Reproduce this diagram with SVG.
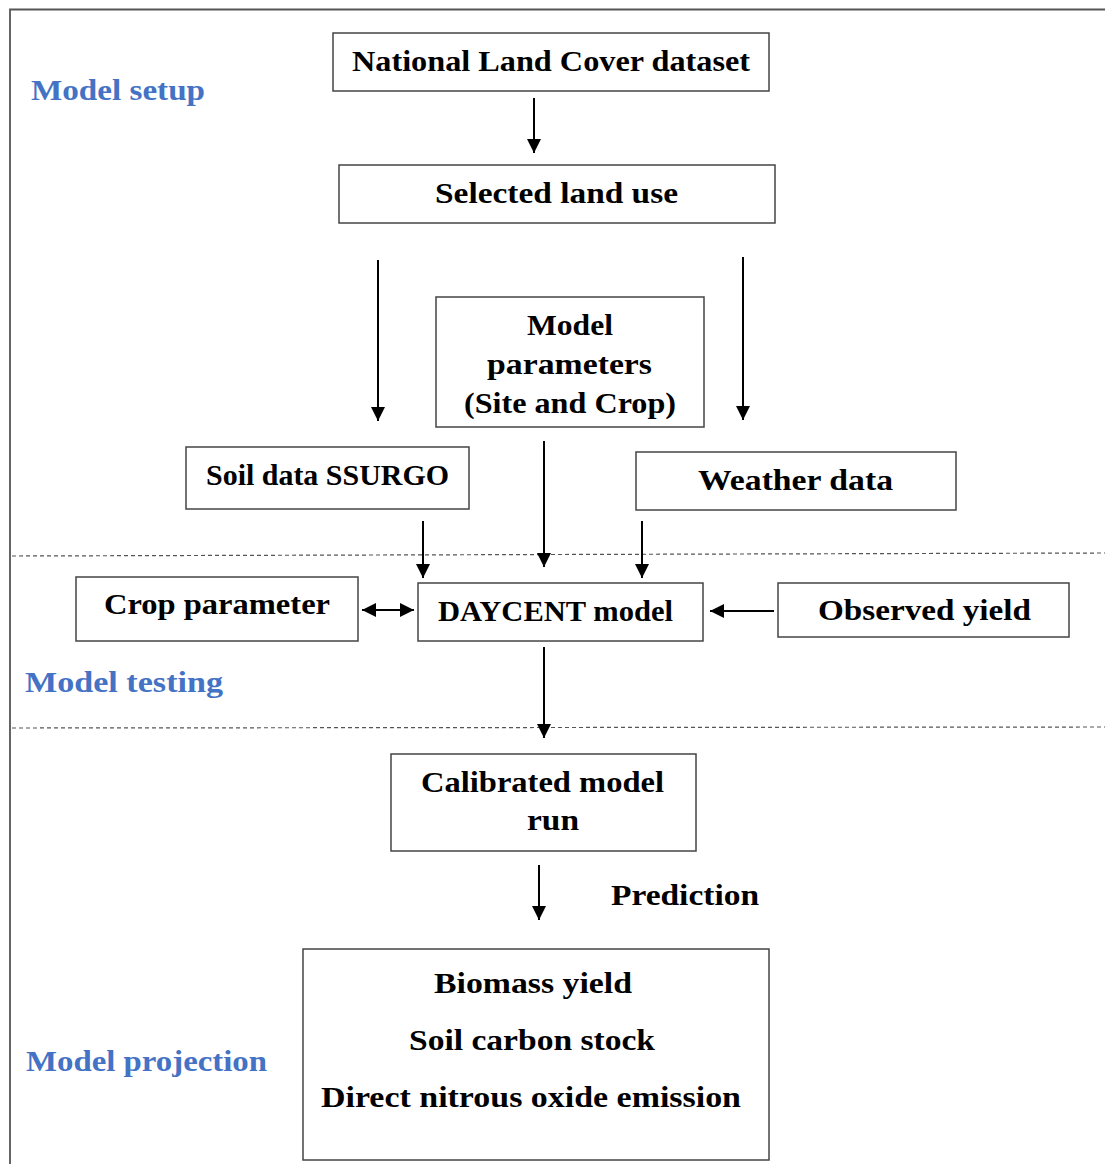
<svg xmlns="http://www.w3.org/2000/svg" width="1105" height="1164" viewBox="0 0 1105 1164">
<style>
.box{fill:#fff;stroke:#444;stroke-width:1.5}
.t{font-family:"Liberation Serif","Times New Roman",serif;font-weight:bold;font-size:30px;fill:#000}
.lbl{font-family:"Liberation Serif","Times New Roman",serif;font-weight:bold;font-size:30px;fill:#4472C4}
.c{stroke:#000;stroke-width:2;fill:none}
.dash{stroke:#555;stroke-width:1.2;stroke-dasharray:4 3;fill:none}
</style>
<defs>
<marker id="ah" markerUnits="userSpaceOnUse" markerWidth="14" markerHeight="16" viewBox="0 0 14 16" refX="14" refY="8" orient="auto-start-reverse">
<path d="M0,1 L14,8 L0,15 Z" fill="#000"/>
</marker>
</defs>
<rect x="0" y="0" width="1105" height="1164" fill="#fff"/>
<path d="M10,1164 L10,9.5 L1105,9.5" fill="none" stroke="#555" stroke-width="1.8"/>
<g id="dividers">
<line class="dash" x1="12" y1="556" x2="1105" y2="553"/>
<line class="dash" x1="12" y1="728" x2="1105" y2="727"/>
</g>
<g id="labels">
<text class="lbl" x="31" y="100" textLength="174" lengthAdjust="spacingAndGlyphs">Model setup</text>
<text class="lbl" x="25" y="692" textLength="198" lengthAdjust="spacingAndGlyphs">Model  testing</text>
<text class="lbl" x="26" y="1071" textLength="241" lengthAdjust="spacingAndGlyphs">Model projection</text>
<text class="t" x="611" y="905" textLength="148" lengthAdjust="spacingAndGlyphs">Prediction</text>
</g>
<g id="connectors">
<line class="c" x1="534" y1="98" x2="534" y2="153" marker-end="url(#ah)"/>
<line class="c" x1="378" y1="260" x2="378" y2="421" marker-end="url(#ah)"/>
<line class="c" x1="743" y1="257" x2="743" y2="420" marker-end="url(#ah)"/>
<line class="c" x1="423" y1="521" x2="423" y2="578" marker-end="url(#ah)"/>
<line class="c" x1="544" y1="441" x2="544" y2="567" marker-end="url(#ah)"/>
<line class="c" x1="642" y1="521" x2="642" y2="578" marker-end="url(#ah)"/>
<line class="c" x1="362" y1="610" x2="414" y2="610" marker-start="url(#ah)" marker-end="url(#ah)"/>
<line class="c" x1="774" y1="611" x2="710" y2="611" marker-end="url(#ah)"/>
<line class="c" x1="544" y1="647" x2="544" y2="738" marker-end="url(#ah)"/>
<line class="c" x1="539" y1="865" x2="539" y2="920" marker-end="url(#ah)"/>
</g>
<g id="nlcd">
<rect class="box" x="333" y="33" width="436" height="58"/>
<text class="t" x="352" y="71" textLength="398" lengthAdjust="spacingAndGlyphs">National Land Cover dataset</text>
</g>
<g id="landuse">
<rect class="box" x="339" y="165" width="436" height="58"/>
<text class="t" x="435" y="203" textLength="243" lengthAdjust="spacingAndGlyphs">Selected land use</text>
</g>
<g id="modelparams">
<rect class="box" x="436" y="297" width="268" height="130"/>
<text class="t" x="527" y="335" textLength="86" lengthAdjust="spacingAndGlyphs">Model</text>
<text class="t" x="487" y="374" textLength="165" lengthAdjust="spacingAndGlyphs">parameters</text>
<text class="t" x="464" y="413" textLength="212" lengthAdjust="spacingAndGlyphs">(Site and Crop)</text>
</g>
<g id="soil">
<rect class="box" x="186" y="447" width="283" height="62"/>
<text class="t" x="206" y="485" textLength="243" lengthAdjust="spacingAndGlyphs">Soil data SSURGO</text>
</g>
<g id="weather">
<rect class="box" x="636" y="452" width="320" height="58"/>
<text class="t" x="698" y="490" textLength="195" lengthAdjust="spacingAndGlyphs">Weather data</text>
</g>
<g id="crop">
<rect class="box" x="76" y="577" width="282" height="64"/>
<text class="t" x="104" y="614" textLength="226" lengthAdjust="spacingAndGlyphs">Crop parameter</text>
</g>
<g id="daycent">
<rect class="box" x="418" y="583" width="285" height="58"/>
<text class="t" x="438" y="621" textLength="235" lengthAdjust="spacingAndGlyphs">DAYCENT  model</text>
</g>
<g id="observed">
<rect class="box" x="778" y="583" width="291" height="54"/>
<text class="t" x="818" y="620" textLength="213" lengthAdjust="spacingAndGlyphs">Observed yield</text>
</g>
<g id="calibrated">
<rect class="box" x="391" y="754" width="305" height="97"/>
<text class="t" x="421" y="792" textLength="243" lengthAdjust="spacingAndGlyphs">Calibrated model</text>
<text class="t" x="527" y="830" textLength="52" lengthAdjust="spacingAndGlyphs">run</text>
</g>
<g id="outputs">
<rect class="box" x="303" y="949" width="466" height="211"/>
<text class="t" x="434" y="993" textLength="198" lengthAdjust="spacingAndGlyphs">Biomass yield</text>
<text class="t" x="409" y="1050" textLength="246" lengthAdjust="spacingAndGlyphs">Soil carbon stock</text>
<text class="t" x="321" y="1107" textLength="420" lengthAdjust="spacingAndGlyphs">Direct nitrous oxide emission</text>
</g>
</svg>
